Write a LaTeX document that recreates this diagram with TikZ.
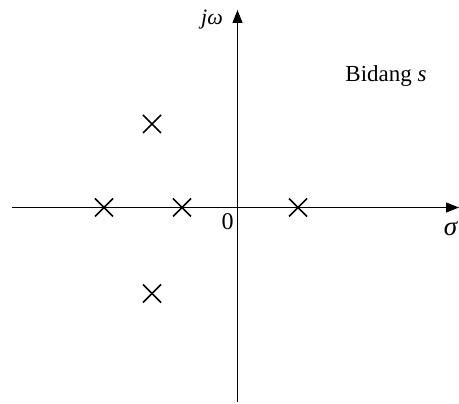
\documentclass[tikz,border=0pt]{standalone}
\usepackage{fontspec}
\setmainfont{Liberation Serif}
\usetikzlibrary{arrows.meta}
\begin{document}
\begin{tikzpicture}[x=1pt,y=-1pt,
  axis/.style={line width=1.1pt,-{Triangle[length=13pt,width=10pt]}},
  pole/.style={line width=1.5pt},
  lbl/.style={inner sep=0pt,font=\fontsize{22}{26}\selectfont}]
\useasboundingbox (0,0) rectangle (459,404);
\coordinate (xl) at (12,207.5);
\coordinate (xr) at (459,207.5);
\coordinate (yb) at (237.5,402);
\coordinate (yt) at (237.5,10);
\draw[axis] (xl) -- (xr);
\draw[axis] (yb) -- (yt);
\foreach \n/\px/\py in {p1/104/207.5,p2/182/207.5,p3/298/207.5,p4/152/124,p5/152/293.5}{
  \coordinate (\n) at (\px,\py);
  \draw[pole] ([shift={(-9,-9)}]\n) -- ([shift={(9,9)}]\n);
  \draw[pole] ([shift={(-9,9)}]\n) -- ([shift={(9,-9)}]\n);
}
\node[lbl] (jw) at (212,19.5) {\textit{jω}};
\node[lbl,font=\fontsize{23}{27}\selectfont] (bid) at (386,76) {Bidang \textit{s}};
\node[lbl,font=\fontsize{24}{28}\selectfont] (zero) at (227.5,221.5) {0};
\node[lbl,font=\fontsize{27}{30}\selectfont] (sig) at (451,229) {\textit{σ}};
\end{tikzpicture}
\end{document}
